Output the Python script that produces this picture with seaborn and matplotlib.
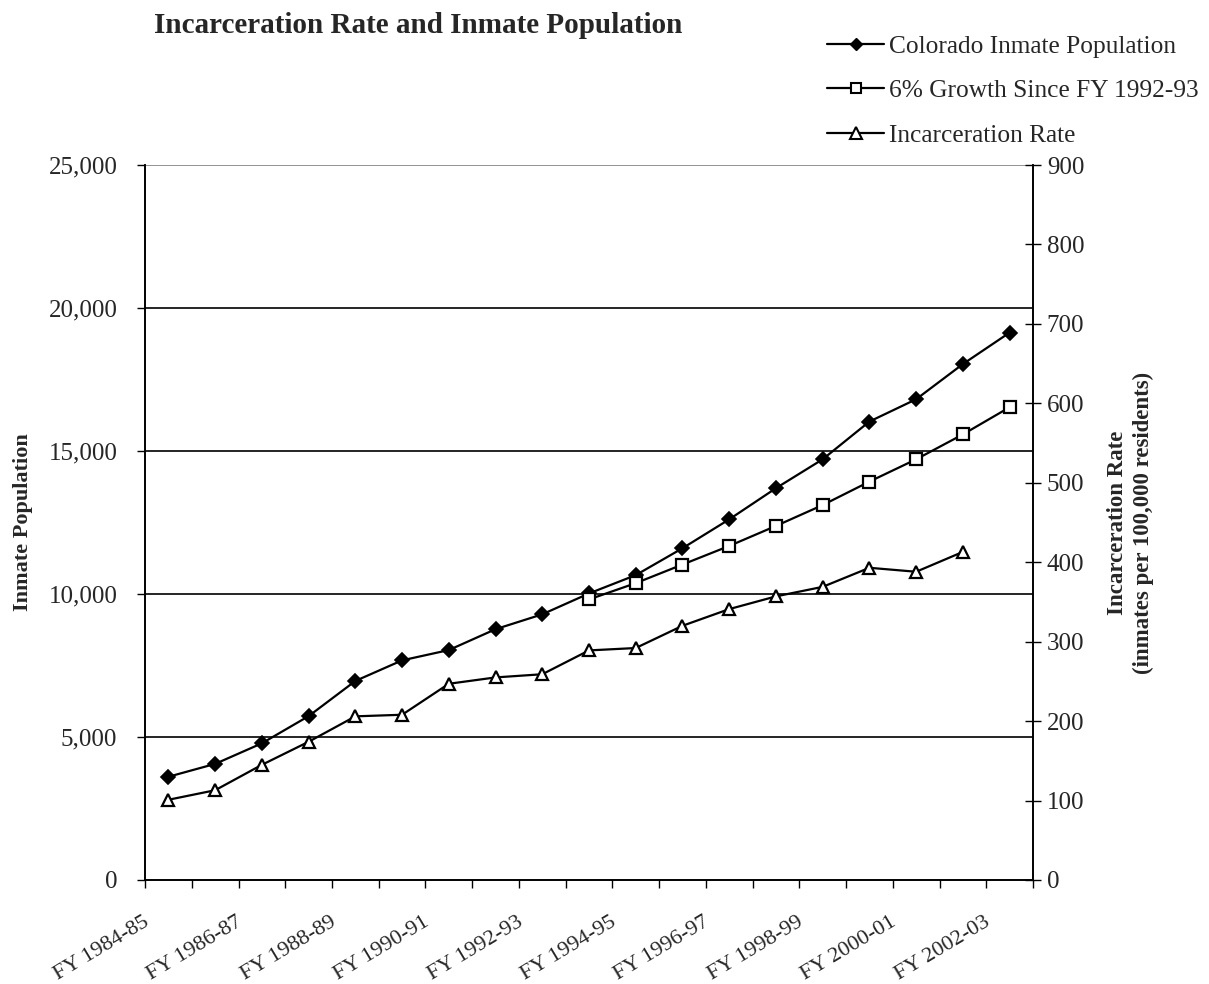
import matplotlib
matplotlib.use("Agg")
import matplotlib.pyplot as plt
import matplotlib.transforms as mtransforms
from matplotlib.lines import Line2D
import seaborn as sns
import pandas as pd
import numpy as np

# Fiscal years
fiscal_years = ["FY 1984-85", "FY 1985-86", "FY 1986-87", "FY 1987-88", "FY 1988-89",
                "FY 1989-90", "FY 1990-91", "FY 1991-92", "FY 1992-93", "FY 1993-94",
                "FY 1994-95", "FY 1995-96", "FY 1996-97", "FY 1997-98", "FY 1998-99",
                "FY 1999-00", "FY 2000-01", "FY 2001-02", "FY 2002-03"]

inmate_population = [3610, 4060, 4780, 5730, 6960, 7680, 8040, 8770, 9290, 10020,
                     10660, 11600, 12610, 13700, 14710, 16030, 16810, 18040, 19140]

growth_6pct = [np.nan] * 9 + [9810, 10380, 11030, 11680, 12380, 13110, 13930, 14710,
                              15580, 16530]

incarceration_rate = [101, 113, 145, 174, 206, 208, 247, 255, 259, 289, 292, 320,
                      341, 357, 369, 393, 388, 413, np.nan]

x_idx = list(range(len(fiscal_years)))
df = pd.DataFrame({"idx": x_idx, "pop": inmate_population,
                   "growth": growth_6pct, "rate": incarceration_rate})

sns.set_theme(style="white")
plt.rcParams["font.family"] = ["Liberation Serif", "DejaVu Serif"]

fig = plt.figure(figsize=(12.09, 9.84), dpi=100)
ax = fig.add_axes([0.12, 0.1057, 0.7344, 0.7266])
ax2 = ax.twinx()

line_kw = dict(color="black", linewidth=1.6)
sns.lineplot(data=df, x="idx", y="pop", ax=ax, marker="D", markersize=6.8,
             markerfacecolor="black", markeredgecolor="black", markeredgewidth=1.2,
             **line_kw)
sns.lineplot(data=df.dropna(subset=["growth"]), x="idx", y="growth", ax=ax, marker="s",
             markersize=8, markerfacecolor="white", markeredgecolor="black",
             markeredgewidth=1.6, **line_kw)
sns.lineplot(data=df.dropna(subset=["rate"]), x="idx", y="rate", ax=ax2, marker="^",
             markersize=9, markerfacecolor="white", markeredgecolor="black",
             markeredgewidth=1.6, **line_kw)

ax.set_xlim(-0.5, len(fiscal_years) - 0.5)
ax.set_ylim(0, 25000)
ax2.set_ylim(0, 900)

# Horizontal gridlines
for yv in range(5000, 25001, 5000):
    ax.axhline(yv, color="#808080" if yv == 25000 else "black", linewidth=1.2, zorder=0)

# Y ticks
ax.set_yticks(range(0, 25001, 5000))
ax.set_yticklabels([f"{v:,}" for v in range(0, 25001, 5000)], fontsize=18)
ax2.set_yticks(range(0, 901, 100))
ax2.set_yticklabels([str(v) for v in range(0, 901, 100)], fontsize=18)
ax.tick_params(axis="y", direction="out", length=6, width=1, color="black", pad=14, left=True)
ax2.tick_params(axis="y", direction="inout", length=12, width=1, color="black", pad=4, right=True)

# X ticks at category boundaries, labels every other year
ax.set_xticks(np.arange(-0.5, len(fiscal_years), 1.0))
ax.set_xticklabels([])
ax.tick_params(axis="x", direction="out", length=6, width=1, color="black", bottom=True)
label_offset = mtransforms.ScaledTranslation(-26 / 100, -33 / 100, fig.dpi_scale_trans)
for i in range(0, len(fiscal_years), 2):
    ax.text(i, 0, fiscal_years[i], rotation=31, ha="right", va="top",
            rotation_mode="anchor", fontsize=16,
            transform=ax.get_xaxis_transform() + label_offset)

for a in (ax, ax2):
    a.spines["top"].set_visible(False)
    for s in ("left", "right", "bottom"):
        a.spines[s].set_color("black")
        a.spines[s].set_linewidth(1.2)
ax.grid(False)
ax2.grid(False)

ax.set_xlabel("")
ax.set_ylabel("Inmate Population", fontsize=16, fontweight="bold", labelpad=11)
ax2.set_ylabel("Incarceration Rate\n(inmates per 100,000 residents)", fontsize=16.5,
               fontweight="bold", labelpad=16, rotation=90, linespacing=1.3)

fig.text(0.127, 0.988, "Incarceration Rate and Inmate Population", fontsize=21,
         fontweight="bold", ha="left", va="top")

handles = [
    Line2D([], [], color="black", linewidth=1.6, marker="D", markersize=6,
           markerfacecolor="black"),
    Line2D([], [], color="black", linewidth=1.6, marker="s", markersize=7.5,
           markerfacecolor="white", markeredgewidth=1.5),
    Line2D([], [], color="black", linewidth=1.6, marker="^", markersize=8.5,
           markerfacecolor="white", markeredgewidth=1.5),
]
labels = ["Colorado Inmate Population", "6% Growth Since FY 1992-93", "Incarceration Rate"]
fig.legend(handles, labels, loc="upper left", bbox_to_anchor=(827 / 1209, 1 - 35 / 984),
           frameon=False, fontsize=18.3, handlelength=2.25, handletextpad=0.2,
           labelspacing=0.85, borderpad=0, borderaxespad=0)

fig.savefig("out.png", dpi=100)
